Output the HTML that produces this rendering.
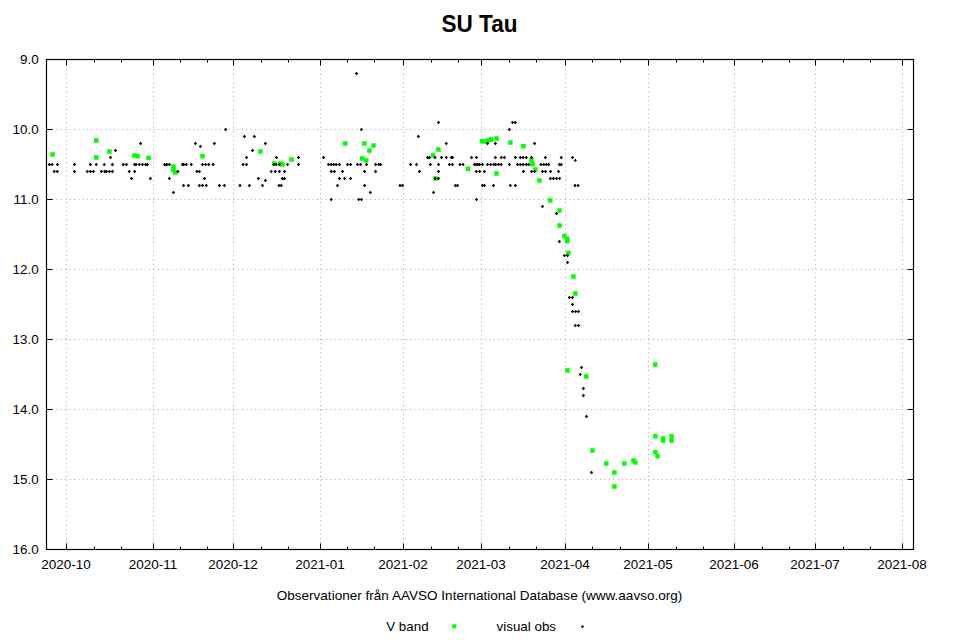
<!DOCTYPE html><html><head><meta charset="utf-8"><style>html,body{margin:0;padding:0;background:#fff;}svg{display:block;}text{font-family:"Liberation Sans",sans-serif;}</style></head><body>
<svg width="960" height="640" viewBox="0 0 960 640">
<rect width="960" height="640" fill="#fff"/>
<path d="M66.5 60.5V548.5M153.5 60.5V548.5M233.5 60.5V548.5M320.5 60.5V548.5M403.5 60.5V548.5M481.5 60.5V548.5M565.5 60.5V548.5M648.5 60.5V548.5M734.5 60.5V548.5M815.5 60.5V548.5M902.5 60.5V548.5M47.5 129.5H912.5M47.5 199.5H912.5M47.5 269.5H912.5M47.5 339.5H912.5M47.5 409.5H912.5M47.5 479.5H912.5" stroke="#a8a8a8" stroke-width="1" stroke-dasharray="1 3.42" fill="none"/>
<path d="M66.5 549.5v-6M66.5 59.5v6M153.5 549.5v-6M153.5 59.5v6M233.5 549.5v-6M233.5 59.5v6M320.5 549.5v-6M320.5 59.5v6M403.5 549.5v-6M403.5 59.5v6M481.5 549.5v-6M481.5 59.5v6M565.5 549.5v-6M565.5 59.5v6M648.5 549.5v-6M648.5 59.5v6M734.5 549.5v-6M734.5 59.5v6M815.5 549.5v-6M815.5 59.5v6M902.5 549.5v-6M902.5 59.5v6M94.5 549.5v-3M94.5 59.5v3M121.5 549.5v-3M121.5 59.5v3M180.5 549.5v-3M180.5 59.5v3M207.5 549.5v-3M207.5 59.5v3M261.5 549.5v-3M261.5 59.5v3M288.5 549.5v-3M288.5 59.5v3M347.5 549.5v-3M347.5 59.5v3M374.5 549.5v-3M374.5 59.5v3M431.5 549.5v-3M431.5 59.5v3M458.5 549.5v-3M458.5 59.5v3M509.5 549.5v-3M509.5 59.5v3M536.5 549.5v-3M536.5 59.5v3M592.5 549.5v-3M592.5 59.5v3M620.5 549.5v-3M620.5 59.5v3M676.5 549.5v-3M676.5 59.5v3M703.5 549.5v-3M703.5 59.5v3M762.5 549.5v-3M762.5 59.5v3M789.5 549.5v-3M789.5 59.5v3M843.5 549.5v-3M843.5 59.5v3M870.5 549.5v-3M870.5 59.5v3M46.5 59.5h6M913.5 59.5h-6M46.5 129.5h6M913.5 129.5h-6M46.5 199.5h6M913.5 199.5h-6M46.5 269.5h6M913.5 269.5h-6M46.5 339.5h6M913.5 339.5h-6M46.5 409.5h6M913.5 409.5h-6M46.5 479.5h6M913.5 479.5h-6M46.5 549.5h6M913.5 549.5h-6" stroke="#000" stroke-width="1" fill="none"/>
<rect x="46.5" y="59.5" width="867.0" height="490.0" fill="none" stroke="#000" stroke-width="1.2"/>
<text transform="translate(38.6,64.0) scale(1.065,1)" font-size="12.6" text-anchor="end" fill="#000">9.0</text>
<text transform="translate(38.6,134.0) scale(1.065,1)" font-size="12.6" text-anchor="end" fill="#000">10.0</text>
<text transform="translate(38.6,204.0) scale(1.065,1)" font-size="12.6" text-anchor="end" fill="#000">11.0</text>
<text transform="translate(38.6,274.0) scale(1.065,1)" font-size="12.6" text-anchor="end" fill="#000">12.0</text>
<text transform="translate(38.6,344.0) scale(1.065,1)" font-size="12.6" text-anchor="end" fill="#000">13.0</text>
<text transform="translate(38.6,414.0) scale(1.065,1)" font-size="12.6" text-anchor="end" fill="#000">14.0</text>
<text transform="translate(38.6,484.0) scale(1.065,1)" font-size="12.6" text-anchor="end" fill="#000">15.0</text>
<text transform="translate(38.6,554.0) scale(1.065,1)" font-size="12.6" text-anchor="end" fill="#000">16.0</text>
<text transform="translate(66.0,569) scale(1.07,1)" font-size="12.6" text-anchor="middle" fill="#000">2020-10</text>
<text transform="translate(153.0,569) scale(1.07,1)" font-size="12.6" text-anchor="middle" fill="#000">2020-11</text>
<text transform="translate(233.0,569) scale(1.07,1)" font-size="12.6" text-anchor="middle" fill="#000">2020-12</text>
<text transform="translate(320.0,569) scale(1.07,1)" font-size="12.6" text-anchor="middle" fill="#000">2021-01</text>
<text transform="translate(403.0,569) scale(1.07,1)" font-size="12.6" text-anchor="middle" fill="#000">2021-02</text>
<text transform="translate(481.0,569) scale(1.07,1)" font-size="12.6" text-anchor="middle" fill="#000">2021-03</text>
<text transform="translate(565.0,569) scale(1.07,1)" font-size="12.6" text-anchor="middle" fill="#000">2021-04</text>
<text transform="translate(648.0,569) scale(1.07,1)" font-size="12.6" text-anchor="middle" fill="#000">2021-05</text>
<text transform="translate(734.0,569) scale(1.07,1)" font-size="12.6" text-anchor="middle" fill="#000">2021-06</text>
<text transform="translate(815.0,569) scale(1.07,1)" font-size="12.6" text-anchor="middle" fill="#000">2021-07</text>
<text transform="translate(902.0,569) scale(1.07,1)" font-size="12.6" text-anchor="middle" fill="#000">2021-08</text>
<text transform="translate(479.5,31.6) scale(0.94,1)" font-size="24" font-weight="bold" text-anchor="middle" fill="#000">SU Tau</text>
<text transform="translate(479.5,599.5) scale(1.06,1)" font-size="12.8" text-anchor="middle" fill="#000">Observationer från AAVSO International Database (www.aavso.org)</text>
<text transform="translate(428.6,631) scale(1.045,1)" font-size="12.8" text-anchor="end" fill="#000">V band</text>
<rect x="452.3" y="624.3" width="4" height="4" fill="#00ff00"/>
<text transform="translate(556,631) scale(1.045,1)" font-size="12.8" text-anchor="end" fill="#000">visual obs</text>
<path d="M582.5 625.0l1.6 1.6l-1.6 1.6l-1.6 -1.6z" fill="#000"/>
<path d="M50.25 152.15h4.5v4.5h-4.5zM94.05 138.25h4.5v4.5h-4.5zM94.05 155.25h4.5v4.5h-4.5zM107.15 149.25h4.5v4.5h-4.5zM132.15 153.15h4.5v4.5h-4.5zM135.25 154.00h4.5v4.5h-4.5zM146.25 155.85h4.5v4.5h-4.5zM171.15 164.25h4.5v4.5h-4.5zM171.15 167.75h4.5v4.5h-4.5zM173.15 170.25h4.5v4.5h-4.5zM200.25 154.00h4.5v4.5h-4.5zM258.15 149.25h4.5v4.5h-4.5zM272.15 161.15h4.5v4.5h-4.5zM278.00 161.15h4.5v4.5h-4.5zM280.25 162.15h4.5v4.5h-4.5zM289.25 157.15h4.5v4.5h-4.5zM343.00 141.15h4.5v4.5h-4.5zM362.15 141.15h4.5v4.5h-4.5zM371.25 143.15h4.5v4.5h-4.5zM367.15 148.15h4.5v4.5h-4.5zM360.00 156.15h4.5v4.5h-4.5zM364.00 158.15h4.5v4.5h-4.5zM436.15 147.15h4.5v4.5h-4.5zM430.85 153.15h4.5v4.5h-4.5zM433.35 176.15h4.5v4.5h-4.5zM465.85 166.50h4.5v4.5h-4.5zM479.65 139.00h4.5v4.5h-4.5zM482.15 139.25h4.5v4.5h-4.5zM485.85 138.15h4.5v4.5h-4.5zM489.00 137.15h4.5v4.5h-4.5zM494.25 136.15h4.5v4.5h-4.5zM508.15 140.25h4.5v4.5h-4.5zM521.15 144.00h4.5v4.5h-4.5zM494.25 171.15h4.5v4.5h-4.5zM529.25 158.15h4.5v4.5h-4.5zM530.25 161.85h4.5v4.5h-4.5zM533.15 167.15h4.5v4.5h-4.5zM537.15 178.15h4.5v4.5h-4.5zM548.00 198.15h4.5v4.5h-4.5zM557.25 208.15h4.5v4.5h-4.5zM557.25 223.15h4.5v4.5h-4.5zM562.15 234.00h4.5v4.5h-4.5zM565.00 236.50h4.5v4.5h-4.5zM565.00 239.00h4.5v4.5h-4.5zM566.15 250.85h4.5v4.5h-4.5zM571.15 274.25h4.5v4.5h-4.5zM573.15 291.25h4.5v4.5h-4.5zM565.25 368.15h4.5v4.5h-4.5zM584.00 374.25h4.5v4.5h-4.5zM653.00 362.15h4.5v4.5h-4.5zM590.25 448.15h4.5v4.5h-4.5zM604.00 461.15h4.5v4.5h-4.5zM612.15 470.25h4.5v4.5h-4.5zM612.15 484.25h4.5v4.5h-4.5zM622.15 461.15h4.5v4.5h-4.5zM631.15 458.15h4.5v4.5h-4.5zM633.00 460.25h4.5v4.5h-4.5zM653.15 434.00h4.5v4.5h-4.5zM653.15 450.00h4.5v4.5h-4.5zM655.25 454.00h4.5v4.5h-4.5zM660.85 436.15h4.5v4.5h-4.5zM660.85 438.15h4.5v4.5h-4.5zM669.25 434.00h4.5v4.5h-4.5zM669.25 438.15h4.5v4.5h-4.5z" fill="#00ff00"/>
<path d="M115.50 148.85l1.65 1.65l-1.65 1.65l-1.65 -1.65zM110.50 155.85l1.65 1.65l-1.65 1.65l-1.65 -1.65zM49.40 162.85l1.65 1.65l-1.65 1.65l-1.65 -1.65zM52.20 162.85l1.65 1.65l-1.65 1.65l-1.65 -1.65zM57.50 162.85l1.65 1.65l-1.65 1.65l-1.65 -1.65zM74.50 162.85l1.65 1.65l-1.65 1.65l-1.65 -1.65zM90.40 162.85l1.65 1.65l-1.65 1.65l-1.65 -1.65zM96.30 162.85l1.65 1.65l-1.65 1.65l-1.65 -1.65zM104.30 162.85l1.65 1.65l-1.65 1.65l-1.65 -1.65zM112.40 162.85l1.65 1.65l-1.65 1.65l-1.65 -1.65zM123.20 162.85l1.65 1.65l-1.65 1.65l-1.65 -1.65zM126.40 162.85l1.65 1.65l-1.65 1.65l-1.65 -1.65zM54.20 169.85l1.65 1.65l-1.65 1.65l-1.65 -1.65zM57.30 169.85l1.65 1.65l-1.65 1.65l-1.65 -1.65zM74.50 169.85l1.65 1.65l-1.65 1.65l-1.65 -1.65zM87.30 169.85l1.65 1.65l-1.65 1.65l-1.65 -1.65zM90.40 169.85l1.65 1.65l-1.65 1.65l-1.65 -1.65zM93.40 169.85l1.65 1.65l-1.65 1.65l-1.65 -1.65zM101.40 169.85l1.65 1.65l-1.65 1.65l-1.65 -1.65zM104.70 169.85l1.65 1.65l-1.65 1.65l-1.65 -1.65zM106.40 169.85l1.65 1.65l-1.65 1.65l-1.65 -1.65zM109.40 169.85l1.65 1.65l-1.65 1.65l-1.65 -1.65zM112.40 169.85l1.65 1.65l-1.65 1.65l-1.65 -1.65zM129.20 169.85l1.65 1.65l-1.65 1.65l-1.65 -1.65zM225.60 127.85l1.65 1.65l-1.65 1.65l-1.65 -1.65zM140.60 141.85l1.65 1.65l-1.65 1.65l-1.65 -1.65zM195.40 141.85l1.65 1.65l-1.65 1.65l-1.65 -1.65zM214.40 141.85l1.65 1.65l-1.65 1.65l-1.65 -1.65zM200.40 144.75l1.65 1.65l-1.65 1.65l-1.65 -1.65zM134.60 162.85l1.65 1.65l-1.65 1.65l-1.65 -1.65zM136.20 162.85l1.65 1.65l-1.65 1.65l-1.65 -1.65zM139.40 162.85l1.65 1.65l-1.65 1.65l-1.65 -1.65zM142.50 162.85l1.65 1.65l-1.65 1.65l-1.65 -1.65zM145.60 162.85l1.65 1.65l-1.65 1.65l-1.65 -1.65zM147.50 162.85l1.65 1.65l-1.65 1.65l-1.65 -1.65zM164.60 162.85l1.65 1.65l-1.65 1.65l-1.65 -1.65zM166.90 162.85l1.65 1.65l-1.65 1.65l-1.65 -1.65zM169.40 162.85l1.65 1.65l-1.65 1.65l-1.65 -1.65zM182.50 162.85l1.65 1.65l-1.65 1.65l-1.65 -1.65zM183.75 162.85l1.65 1.65l-1.65 1.65l-1.65 -1.65zM186.25 162.85l1.65 1.65l-1.65 1.65l-1.65 -1.65zM191.25 162.85l1.65 1.65l-1.65 1.65l-1.65 -1.65zM202.50 162.85l1.65 1.65l-1.65 1.65l-1.65 -1.65zM205.60 162.85l1.65 1.65l-1.65 1.65l-1.65 -1.65zM208.75 162.85l1.65 1.65l-1.65 1.65l-1.65 -1.65zM213.10 162.85l1.65 1.65l-1.65 1.65l-1.65 -1.65zM134.60 169.85l1.65 1.65l-1.65 1.65l-1.65 -1.65zM177.90 169.85l1.65 1.65l-1.65 1.65l-1.65 -1.65zM196.90 169.85l1.65 1.65l-1.65 1.65l-1.65 -1.65zM199.40 169.85l1.65 1.65l-1.65 1.65l-1.65 -1.65zM131.50 176.85l1.65 1.65l-1.65 1.65l-1.65 -1.65zM150.40 176.85l1.65 1.65l-1.65 1.65l-1.65 -1.65zM169.40 176.85l1.65 1.65l-1.65 1.65l-1.65 -1.65zM204.50 176.85l1.65 1.65l-1.65 1.65l-1.65 -1.65zM183.50 183.85l1.65 1.65l-1.65 1.65l-1.65 -1.65zM188.40 183.85l1.65 1.65l-1.65 1.65l-1.65 -1.65zM199.40 183.85l1.65 1.65l-1.65 1.65l-1.65 -1.65zM202.50 183.85l1.65 1.65l-1.65 1.65l-1.65 -1.65zM206.25 183.85l1.65 1.65l-1.65 1.65l-1.65 -1.65zM219.40 183.85l1.65 1.65l-1.65 1.65l-1.65 -1.65zM224.40 183.85l1.65 1.65l-1.65 1.65l-1.65 -1.65zM173.40 190.85l1.65 1.65l-1.65 1.65l-1.65 -1.65zM244.40 134.85l1.65 1.65l-1.65 1.65l-1.65 -1.65zM254.40 134.85l1.65 1.65l-1.65 1.65l-1.65 -1.65zM265.40 141.85l1.65 1.65l-1.65 1.65l-1.65 -1.65zM252.50 148.85l1.65 1.65l-1.65 1.65l-1.65 -1.65zM246.50 155.85l1.65 1.65l-1.65 1.65l-1.65 -1.65zM276.50 155.85l1.65 1.65l-1.65 1.65l-1.65 -1.65zM298.50 155.85l1.65 1.65l-1.65 1.65l-1.65 -1.65zM323.50 155.85l1.65 1.65l-1.65 1.65l-1.65 -1.65zM243.10 162.85l1.65 1.65l-1.65 1.65l-1.65 -1.65zM246.50 162.85l1.65 1.65l-1.65 1.65l-1.65 -1.65zM273.75 162.85l1.65 1.65l-1.65 1.65l-1.65 -1.65zM276.25 162.85l1.65 1.65l-1.65 1.65l-1.65 -1.65zM279.40 162.85l1.65 1.65l-1.65 1.65l-1.65 -1.65zM287.50 162.85l1.65 1.65l-1.65 1.65l-1.65 -1.65zM298.50 162.85l1.65 1.65l-1.65 1.65l-1.65 -1.65zM328.50 162.85l1.65 1.65l-1.65 1.65l-1.65 -1.65zM331.25 162.85l1.65 1.65l-1.65 1.65l-1.65 -1.65zM333.75 162.85l1.65 1.65l-1.65 1.65l-1.65 -1.65zM336.25 162.85l1.65 1.65l-1.65 1.65l-1.65 -1.65zM339.40 162.85l1.65 1.65l-1.65 1.65l-1.65 -1.65zM347.50 162.85l1.65 1.65l-1.65 1.65l-1.65 -1.65zM350.60 162.85l1.65 1.65l-1.65 1.65l-1.65 -1.65zM271.25 169.85l1.65 1.65l-1.65 1.65l-1.65 -1.65zM275.25 169.85l1.65 1.65l-1.65 1.65l-1.65 -1.65zM279.40 169.85l1.65 1.65l-1.65 1.65l-1.65 -1.65zM284.60 169.85l1.65 1.65l-1.65 1.65l-1.65 -1.65zM331.25 169.85l1.65 1.65l-1.65 1.65l-1.65 -1.65zM334.40 169.85l1.65 1.65l-1.65 1.65l-1.65 -1.65zM342.50 169.85l1.65 1.65l-1.65 1.65l-1.65 -1.65zM258.40 176.85l1.65 1.65l-1.65 1.65l-1.65 -1.65zM282.25 176.85l1.65 1.65l-1.65 1.65l-1.65 -1.65zM284.60 176.85l1.65 1.65l-1.65 1.65l-1.65 -1.65zM339.40 176.85l1.65 1.65l-1.65 1.65l-1.65 -1.65zM344.60 176.85l1.65 1.65l-1.65 1.65l-1.65 -1.65zM350.60 176.85l1.65 1.65l-1.65 1.65l-1.65 -1.65zM265.40 178.85l1.65 1.65l-1.65 1.65l-1.65 -1.65zM240.00 183.85l1.65 1.65l-1.65 1.65l-1.65 -1.65zM249.40 183.85l1.65 1.65l-1.65 1.65l-1.65 -1.65zM262.50 183.85l1.65 1.65l-1.65 1.65l-1.65 -1.65zM279.00 183.85l1.65 1.65l-1.65 1.65l-1.65 -1.65zM281.25 183.85l1.65 1.65l-1.65 1.65l-1.65 -1.65zM337.50 183.85l1.65 1.65l-1.65 1.65l-1.65 -1.65zM331.25 197.85l1.65 1.65l-1.65 1.65l-1.65 -1.65zM356.50 71.85l1.65 1.65l-1.65 1.65l-1.65 -1.65zM438.50 120.85l1.65 1.65l-1.65 1.65l-1.65 -1.65zM361.50 127.85l1.65 1.65l-1.65 1.65l-1.65 -1.65zM418.40 134.85l1.65 1.65l-1.65 1.65l-1.65 -1.65zM446.25 141.85l1.65 1.65l-1.65 1.65l-1.65 -1.65zM427.50 155.85l1.65 1.65l-1.65 1.65l-1.65 -1.65zM429.40 155.85l1.65 1.65l-1.65 1.65l-1.65 -1.65zM435.00 155.85l1.65 1.65l-1.65 1.65l-1.65 -1.65zM441.50 155.85l1.65 1.65l-1.65 1.65l-1.65 -1.65zM446.25 155.85l1.65 1.65l-1.65 1.65l-1.65 -1.65zM451.25 155.85l1.65 1.65l-1.65 1.65l-1.65 -1.65zM452.50 155.85l1.65 1.65l-1.65 1.65l-1.65 -1.65zM357.50 162.85l1.65 1.65l-1.65 1.65l-1.65 -1.65zM360.60 162.85l1.65 1.65l-1.65 1.65l-1.65 -1.65zM366.50 162.85l1.65 1.65l-1.65 1.65l-1.65 -1.65zM375.60 162.85l1.65 1.65l-1.65 1.65l-1.65 -1.65zM378.75 162.85l1.65 1.65l-1.65 1.65l-1.65 -1.65zM380.60 162.85l1.65 1.65l-1.65 1.65l-1.65 -1.65zM410.60 162.85l1.65 1.65l-1.65 1.65l-1.65 -1.65zM416.50 162.85l1.65 1.65l-1.65 1.65l-1.65 -1.65zM430.40 162.85l1.65 1.65l-1.65 1.65l-1.65 -1.65zM438.50 162.85l1.65 1.65l-1.65 1.65l-1.65 -1.65zM449.40 162.85l1.65 1.65l-1.65 1.65l-1.65 -1.65zM452.50 162.85l1.65 1.65l-1.65 1.65l-1.65 -1.65zM460.00 162.85l1.65 1.65l-1.65 1.65l-1.65 -1.65zM463.10 162.85l1.65 1.65l-1.65 1.65l-1.65 -1.65zM364.60 169.85l1.65 1.65l-1.65 1.65l-1.65 -1.65zM375.60 169.85l1.65 1.65l-1.65 1.65l-1.65 -1.65zM419.40 169.85l1.65 1.65l-1.65 1.65l-1.65 -1.65zM438.50 169.85l1.65 1.65l-1.65 1.65l-1.65 -1.65zM435.00 176.85l1.65 1.65l-1.65 1.65l-1.65 -1.65zM438.50 176.85l1.65 1.65l-1.65 1.65l-1.65 -1.65zM364.60 183.85l1.65 1.65l-1.65 1.65l-1.65 -1.65zM400.00 183.85l1.65 1.65l-1.65 1.65l-1.65 -1.65zM402.50 183.85l1.65 1.65l-1.65 1.65l-1.65 -1.65zM455.40 183.85l1.65 1.65l-1.65 1.65l-1.65 -1.65zM457.50 183.85l1.65 1.65l-1.65 1.65l-1.65 -1.65zM370.40 190.85l1.65 1.65l-1.65 1.65l-1.65 -1.65zM433.50 190.85l1.65 1.65l-1.65 1.65l-1.65 -1.65zM358.75 197.85l1.65 1.65l-1.65 1.65l-1.65 -1.65zM361.50 197.85l1.65 1.65l-1.65 1.65l-1.65 -1.65zM512.50 120.85l1.65 1.65l-1.65 1.65l-1.65 -1.65zM515.25 120.85l1.65 1.65l-1.65 1.65l-1.65 -1.65zM509.40 127.85l1.65 1.65l-1.65 1.65l-1.65 -1.65zM487.50 141.85l1.65 1.65l-1.65 1.65l-1.65 -1.65zM495.40 141.85l1.65 1.65l-1.65 1.65l-1.65 -1.65zM534.60 141.85l1.65 1.65l-1.65 1.65l-1.65 -1.65zM471.50 155.85l1.65 1.65l-1.65 1.65l-1.65 -1.65zM476.50 155.85l1.65 1.65l-1.65 1.65l-1.65 -1.65zM495.40 155.85l1.65 1.65l-1.65 1.65l-1.65 -1.65zM501.25 155.85l1.65 1.65l-1.65 1.65l-1.65 -1.65zM504.40 155.85l1.65 1.65l-1.65 1.65l-1.65 -1.65zM515.40 155.85l1.65 1.65l-1.65 1.65l-1.65 -1.65zM520.40 155.85l1.65 1.65l-1.65 1.65l-1.65 -1.65zM523.10 155.85l1.65 1.65l-1.65 1.65l-1.65 -1.65zM526.25 155.85l1.65 1.65l-1.65 1.65l-1.65 -1.65zM531.50 155.85l1.65 1.65l-1.65 1.65l-1.65 -1.65zM545.40 155.85l1.65 1.65l-1.65 1.65l-1.65 -1.65zM561.25 155.85l1.65 1.65l-1.65 1.65l-1.65 -1.65zM572.50 155.85l1.65 1.65l-1.65 1.65l-1.65 -1.65zM575.25 158.75l1.65 1.65l-1.65 1.65l-1.65 -1.65zM474.40 162.85l1.65 1.65l-1.65 1.65l-1.65 -1.65zM476.25 162.85l1.65 1.65l-1.65 1.65l-1.65 -1.65zM477.75 162.85l1.65 1.65l-1.65 1.65l-1.65 -1.65zM479.60 162.85l1.65 1.65l-1.65 1.65l-1.65 -1.65zM482.50 162.85l1.65 1.65l-1.65 1.65l-1.65 -1.65zM487.50 162.85l1.65 1.65l-1.65 1.65l-1.65 -1.65zM490.60 162.85l1.65 1.65l-1.65 1.65l-1.65 -1.65zM493.75 162.85l1.65 1.65l-1.65 1.65l-1.65 -1.65zM495.60 162.85l1.65 1.65l-1.65 1.65l-1.65 -1.65zM498.50 162.85l1.65 1.65l-1.65 1.65l-1.65 -1.65zM501.25 162.85l1.65 1.65l-1.65 1.65l-1.65 -1.65zM509.40 162.85l1.65 1.65l-1.65 1.65l-1.65 -1.65zM517.50 162.85l1.65 1.65l-1.65 1.65l-1.65 -1.65zM520.40 162.85l1.65 1.65l-1.65 1.65l-1.65 -1.65zM523.10 162.85l1.65 1.65l-1.65 1.65l-1.65 -1.65zM526.25 162.85l1.65 1.65l-1.65 1.65l-1.65 -1.65zM528.75 162.85l1.65 1.65l-1.65 1.65l-1.65 -1.65zM540.90 162.85l1.65 1.65l-1.65 1.65l-1.65 -1.65zM543.75 162.85l1.65 1.65l-1.65 1.65l-1.65 -1.65zM546.25 162.85l1.65 1.65l-1.65 1.65l-1.65 -1.65zM548.75 162.85l1.65 1.65l-1.65 1.65l-1.65 -1.65zM559.40 162.85l1.65 1.65l-1.65 1.65l-1.65 -1.65zM561.25 162.85l1.65 1.65l-1.65 1.65l-1.65 -1.65zM476.25 169.85l1.65 1.65l-1.65 1.65l-1.65 -1.65zM479.60 169.85l1.65 1.65l-1.65 1.65l-1.65 -1.65zM484.40 169.85l1.65 1.65l-1.65 1.65l-1.65 -1.65zM523.40 169.85l1.65 1.65l-1.65 1.65l-1.65 -1.65zM531.50 169.85l1.65 1.65l-1.65 1.65l-1.65 -1.65zM534.60 169.85l1.65 1.65l-1.65 1.65l-1.65 -1.65zM542.50 169.85l1.65 1.65l-1.65 1.65l-1.65 -1.65zM545.60 169.85l1.65 1.65l-1.65 1.65l-1.65 -1.65zM550.60 169.85l1.65 1.65l-1.65 1.65l-1.65 -1.65zM558.50 169.85l1.65 1.65l-1.65 1.65l-1.65 -1.65zM550.40 176.85l1.65 1.65l-1.65 1.65l-1.65 -1.65zM553.40 176.85l1.65 1.65l-1.65 1.65l-1.65 -1.65zM556.50 176.85l1.65 1.65l-1.65 1.65l-1.65 -1.65zM559.60 176.85l1.65 1.65l-1.65 1.65l-1.65 -1.65zM482.50 183.85l1.65 1.65l-1.65 1.65l-1.65 -1.65zM484.40 183.85l1.65 1.65l-1.65 1.65l-1.65 -1.65zM493.50 183.85l1.65 1.65l-1.65 1.65l-1.65 -1.65zM510.40 183.85l1.65 1.65l-1.65 1.65l-1.65 -1.65zM515.40 183.85l1.65 1.65l-1.65 1.65l-1.65 -1.65zM575.00 183.85l1.65 1.65l-1.65 1.65l-1.65 -1.65zM578.10 183.85l1.65 1.65l-1.65 1.65l-1.65 -1.65zM476.50 197.85l1.65 1.65l-1.65 1.65l-1.65 -1.65zM542.50 204.85l1.65 1.65l-1.65 1.65l-1.65 -1.65zM556.50 211.85l1.65 1.65l-1.65 1.65l-1.65 -1.65zM559.40 239.85l1.65 1.65l-1.65 1.65l-1.65 -1.65zM564.40 253.95l1.65 1.65l-1.65 1.65l-1.65 -1.65zM567.50 253.95l1.65 1.65l-1.65 1.65l-1.65 -1.65zM567.50 260.85l1.65 1.65l-1.65 1.65l-1.65 -1.65zM569.40 295.85l1.65 1.65l-1.65 1.65l-1.65 -1.65zM572.50 295.85l1.65 1.65l-1.65 1.65l-1.65 -1.65zM572.50 302.85l1.65 1.65l-1.65 1.65l-1.65 -1.65zM572.50 309.85l1.65 1.65l-1.65 1.65l-1.65 -1.65zM575.60 309.85l1.65 1.65l-1.65 1.65l-1.65 -1.65zM578.50 309.85l1.65 1.65l-1.65 1.65l-1.65 -1.65zM575.25 323.85l1.65 1.65l-1.65 1.65l-1.65 -1.65zM578.50 323.85l1.65 1.65l-1.65 1.65l-1.65 -1.65zM581.50 365.85l1.65 1.65l-1.65 1.65l-1.65 -1.65zM580.25 372.85l1.65 1.65l-1.65 1.65l-1.65 -1.65zM583.40 386.85l1.65 1.65l-1.65 1.65l-1.65 -1.65zM583.40 393.85l1.65 1.65l-1.65 1.65l-1.65 -1.65zM586.50 414.85l1.65 1.65l-1.65 1.65l-1.65 -1.65zM591.50 470.85l1.65 1.65l-1.65 1.65l-1.65 -1.65z" fill="#000"/>
</svg></body></html>
